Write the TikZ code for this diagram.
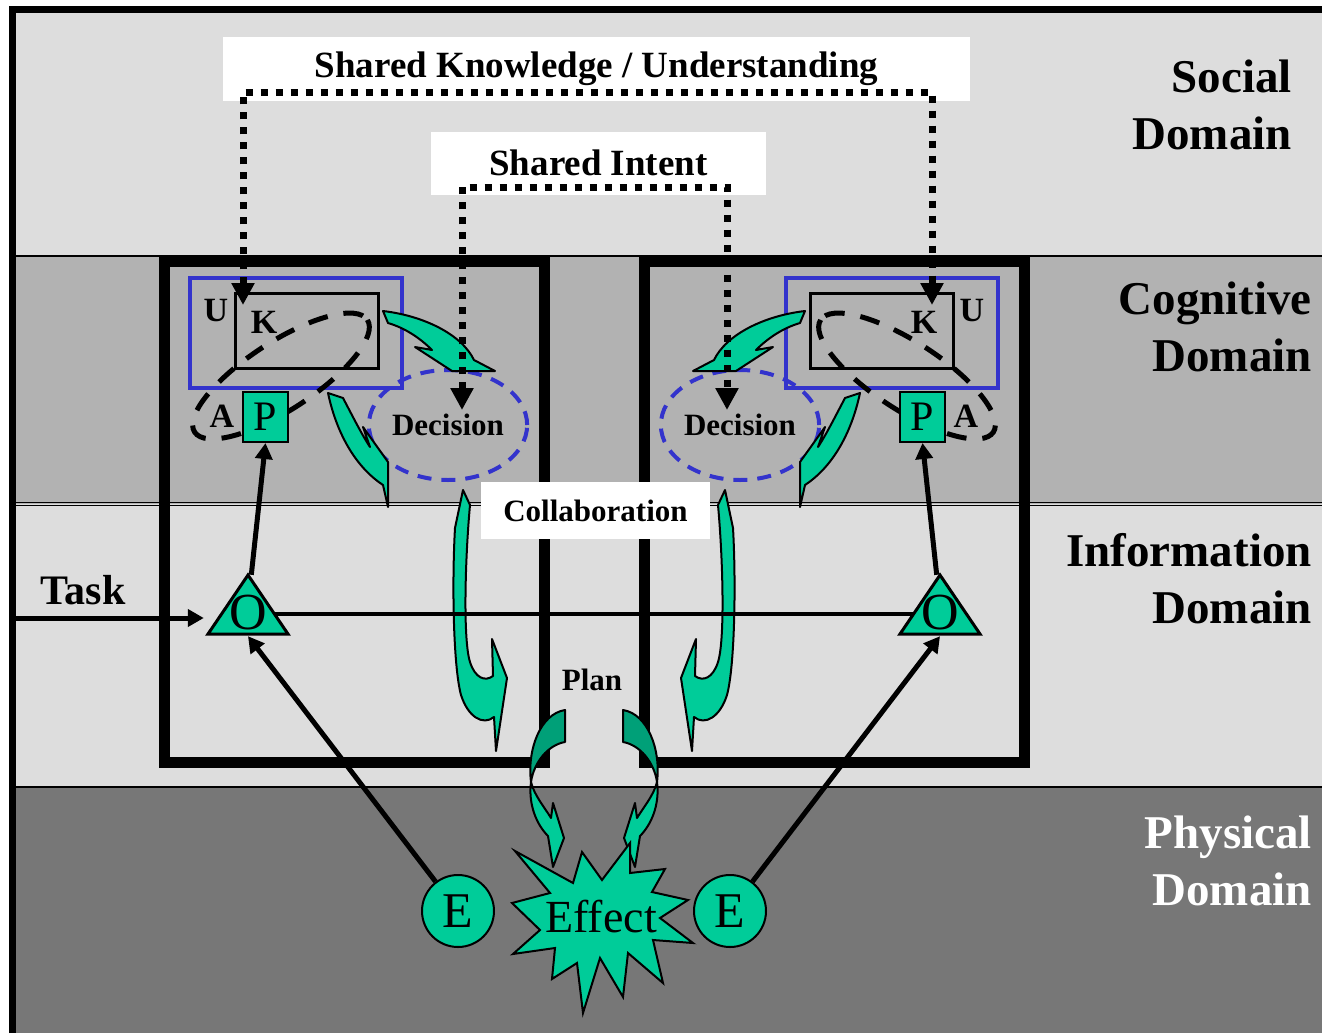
\documentclass[tikz,border=0pt]{standalone}
\usepackage{fontspec}
\setmainfont{Liberation Serif}
\usetikzlibrary{shapes.geometric,arrows.meta}
\definecolor{tgreen}{RGB}{0,204,153}
\definecolor{dgreen}{RGB}{0,160,120}
\definecolor{dblue}{RGB}{51,51,204}
\definecolor{lgray}{RGB}{221,221,221}
\definecolor{mgray}{RGB}{178,178,178}
\definecolor{pgray}{RGB}{119,119,119}
\tikzset{
  dom/.style={anchor=north east, align=right, inner sep=0pt, font=\bfseries\fontsize{47}{57}\selectfont},
  bigbox/.style={draw, line width=11pt},
  urect/.style={draw=dblue, line width=4pt},
  krect/.style={draw, line width=3pt},
  ellA/.style={draw, line width=5pt, dash pattern=on 20pt off 16pt},
  lettr/.style={inner sep=0pt, font=\bfseries\fontsize{34}{34}\selectfont},
  pbox/.style={rectangle, draw, fill=tgreen, line width=2pt, minimum width=45pt, minimum height=50pt, inner sep=0pt, font=\fontsize{42}{42}\selectfont},
  decision/.style={ellipse, draw=dblue, line width=4pt, dash pattern=on 14pt off 10pt, minimum width=148pt, minimum height=110pt, inner sep=0pt, font=\bfseries\fontsize{31}{31}\selectfont},
  otri/.style={fill=tgreen, draw, line width=3pt, line join=miter},
  onode/.style={rectangle, inner sep=0pt, minimum width=52pt, minimum height=61pt, text height=47pt, text depth=0pt, font=\fontsize{52}{52}\selectfont},
  ecirc/.style={circle, draw, fill=tgreen, line width=2pt, minimum size=72pt, inner sep=0pt, font=\fontsize{50}{50}\selectfont},
  garrow/.style={fill=tgreen, draw, line width=2pt, line join=round},
  link/.style={line width=5pt, -{Triangle[length=16pt,width=17pt]}},
  dotline/.style={line width=7pt, dash pattern=on 7pt off 8pt, {Triangle[length=22pt,width=22pt]}-{Triangle[length=22pt,width=22pt]}},
  lbl/.style={fill=white, inner sep=0pt}
}
\begin{document}
\begin{tikzpicture}[x=1pt,y=-1pt]
\useasboundingbox (0,0) rectangle (1322,1033);
% the four domains
\fill[lgray] (12,10) rectangle (1322,256);
\fill[mgray] (12,256) rectangle (1322,504);
\fill[lgray] (12,504) rectangle (1322,787);
\fill[pgray] (12,787) rectangle (1322,1033);
\draw[line width=1.2pt] (12,256) -- (1322,256) (12,502.5) -- (1322,502.5) (12,505.5) -- (1322,505.5) (12,787) -- (1322,787);
\draw[line width=7pt] (12,1033) -- (12,10) -- (1322,10);
\node[dom] (social) at (1292,60) {Social\\Domain};
\node[dom] (cognitive) at (1312,282) {Cognitive\\Domain};
\node[dom] (information) at (1312,533) {Information\\Domain};
\node[dom, text=white] (physical) at (1312,816) {Physical\\Domain};
% the two actors, right one mirrored
\foreach \sx/\sc/\n in {0/1/l,1188/-1/r}{
  \begin{scope}[shift={(\sx,0)},xscale=\sc]
    \draw[bigbox] (164,261) rectangle (544,762);
    \draw[urect] (190,278) rectangle (402,388);
    \draw[krect] (235,293) rectangle (378,368);
    \draw[ellA, rotate around={33:(281,376)}] (281,376) ellipse [x radius=103, y radius=34];
    \node[lettr] (U\n) at (216,311) {U};
    \node[lettr] (K\n) at (264,322) {K};
    \node[lettr] (A\n) at (222,416) {A};
    \node[pbox] (P\n) at (265.5,417) {P};
    \node[decision] (D\n) at (448,425) {Decision};
    \filldraw[garrow] (383,311) .. controls (425,316) and (462,335) .. (474,360) -- (495,371) -- (452,371) -- (415,347) -- (432,350) .. controls (420,338) and (405,328) .. (388,323) -- cycle;
    \filldraw[garrow] (328,393) -- (343,398) .. controls (352,415) and (362,435) .. (370,447) -- (363,427) -- (388,462) -- (388,507) -- (383,485) .. controls (360,470) and (338,440) .. (328,393) -- cycle;
    \filldraw[otri] (208,634) -- (248,575) -- (288,634) -- cycle;
    \node[onode] (O\n) at (248,605.5) {O};
    \node[ecirc] (E\n) at (458,911) {E};
    \draw[link] (O\n) -- (P\n.south);
    \draw[link] (E\n) -- (O\n.south);
    % collaboration and plan
    \filldraw[garrow] (463,490) -- (470,505) .. controls (465,560) and (463,640) .. (470,662) .. controls (475,678) and (485,682) .. (493,676) -- (492,639) -- (507,678) -- (496,751) -- (494,717) .. controls (483,726) and (468,717) .. (461,695) .. controls (453,665) and (452,580) .. (455,528) -- cycle;
    \filldraw[garrow, fill=dgreen] (565,710) -- (565,742) .. controls (548,745) and (534,762) .. (531,782) .. controls (527,750) and (540,714) .. (565,710) -- cycle;
    \filldraw[garrow] (531,782) .. controls (528,805) and (537,825) .. (548,836) -- (553,867) -- (564,838) -- (553,803) -- (551,818) .. controls (545,808) and (534,795) .. (531,782) -- cycle;
  \end{scope}
}
% shared labels
\node[lbl, minimum width=747pt, minimum height=63pt, font=\bfseries\fontsize{37}{37}\selectfont] (sku) at (596.5,69) {Shared Knowledge / Understanding};
\node[lbl, minimum width=335pt, minimum height=63pt, font=\bfseries\fontsize{37}{37}\selectfont] (intent) at (598.5,163) {Shared Intent};
\node[lbl, minimum width=229pt, minimum height=57pt, font=\bfseries\fontsize{31}{31}\selectfont] (collab) at (595.5,510.5) {Collaboration};
\node[font=\bfseries\fontsize{31}{31}\selectfont] (plan) at (592,680) {Plan};
\coordinate (skl) at (243,305);
\coordinate (skr) at (932,305);
\coordinate (sil) at (462,410);
\coordinate (sir) at (727,410);
\draw[dotline] (skl) -- ++(0,-213) -| (skr);
\draw[dotline] (sil) -- ++(0,-223) -| (sir);
% task and effect
\draw[line width=4pt] ([yshift=-8.5pt]Ol.east) -- ([yshift=-8.5pt]Or.west);
\node[anchor=base, inner sep=0pt, font=\bfseries\fontsize{42}{42}\selectfont] (task) at (83,604) {Task};
\coordinate (tin) at (12,618);
\draw[link, shorten >=18pt] (tin) -- (tin -| Ol.west);
\filldraw[fill=tgreen, draw, line width=2pt] (515,851) -- (573,883) -- (582,852) -- (602,880) -- (630,843) -- (630,873) -- (665,869) -- (652,892) -- (688,900) -- (660,918) -- (693,943) -- (653,940) -- (663,983) -- (628,953) -- (623,997) -- (600,958) -- (583,1013) -- (577,963) -- (552,979) -- (555,948) -- (513,954) -- (540,930) -- (512,903) -- (550,893) -- cycle;
\node[inner sep=0pt, font=\fontsize{46}{46}\selectfont] (effect) at (601,917) {Effect};
\end{tikzpicture}
\end{document}
